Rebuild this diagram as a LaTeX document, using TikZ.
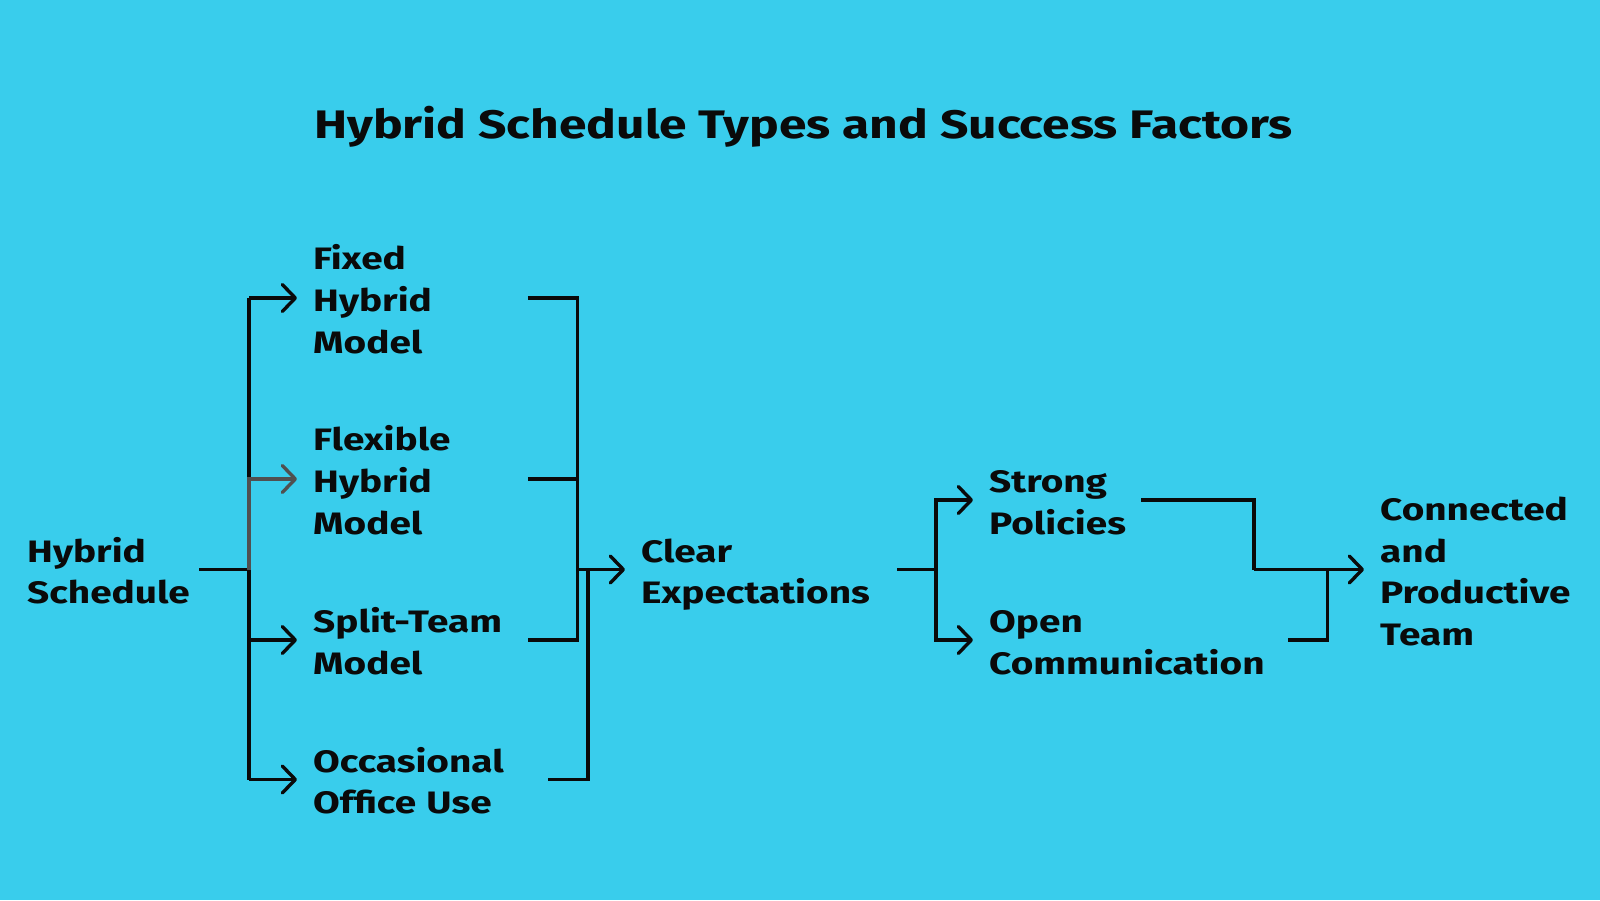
\documentclass[tikz,border=0pt]{standalone}
\usepackage{fontspec}
\usetikzlibrary{arrows.meta}
\setmainfont{Fira Sans}[BoldFont={Fira Sans Bold},BoldFeatures={FakeStretch=1.25}]
\definecolor{bgblue}{HTML}{39CDEC}
\definecolor{inkblack}{HTML}{0A0A0A}
\definecolor{inkgrey}{HTML}{505050}
\tikzset{
  lbl/.style={anchor=west, inner sep=0pt, align=left, text=inkblack,
    font=\fontsize{31}{41.8}\selectfont\bfseries,
    execute at begin node={\rule{0pt}{36pt}},
    execute at end node={\rule[-9pt]{0pt}{9pt}}},
  ttl/.style={inner sep=0pt, text=inkblack, font=\fontsize{39.8}{46}\selectfont\bfseries},
  conn/.style={draw=inkblack, line width=3.4pt, line join=miter},
  arr/.style={conn, -{Straight Barb[length=13pt,width=27pt,line width=3.4pt,round]}},
  greyarr/.style={arr, draw=inkgrey},
}
\begin{document}
\begin{tikzpicture}[x=1pt,y=-1pt]
\useasboundingbox (0,0) rectangle (1600,900);
\fill[bgblue] (0,0) rectangle (1600,900);

\node[ttl] (title) at (803.5,126.5) {Hybrid Schedule Types and Success Factors};

\node[lbl, text width=172pt] (hs) at (27,569.5) {Hybrid\\Schedule};
\node[lbl, text width=214.5pt] (fixed) at (313,298) {Fixed\\Hybrid\\Model};
\node[lbl, text width=214.5pt] (flex) at (313,479) {Flexible\\Hybrid\\Model};
\node[lbl, text width=214.5pt] (split) at (313,640) {Split-Team\\Model};
\node[lbl, text width=235pt] (occ) at (313,779.5) {Occasional\\Office Use};
\node[lbl, text width=256pt] (clear) at (641,569.5) {Clear\\Expectations};
\node[lbl, text width=152pt] (strong) at (989,500) {Strong\\Policies};
\node[lbl, text width=299pt] (open) at (989,640) {Open\\Communication};
\node[lbl, text width=200pt] (team) at (1380,569.5) {Connected\\and\\Productive\\Team};

\coordinate (j1) at (249,569.5);
\coordinate (j2) at (577.5,569.5);
\coordinate (j3) at (588,569.5);
\coordinate (j4) at (936,569.5);
\coordinate (j5) at (1254,569.5);
\coordinate (j6) at (1327.5,569.5);

% left fan-out
\draw[conn] (hs.east) -- (j1);
\draw[conn] (j1) -- (j1 |- fixed.west);
\draw[conn] (j1) -- (j1 |- occ.west);
\draw[arr] (j1 |- fixed.west) -- ([xshift=-16pt]fixed.west);
\draw[arr] (j1 |- split.west) -- ([xshift=-16pt]split.west);
\draw[arr] (j1 |- occ.west) -- ([xshift=-16pt]occ.west);
\draw[greyarr] (j1) -- (j1 |- flex.west) -- ([xshift=-16pt]flex.west);

% merge into Clear Expectations
\draw[conn] (fixed.east) -- (j2 |- fixed.east) -- (j2 |- split.east) -- (split.east);
\draw[conn] (flex.east) -- (j2 |- flex.east);
\draw[conn] (occ.east) -- (j3 |- occ.east) -- (j3);
\draw[arr] (j2) -- ([xshift=-16pt]clear.west);

% fan-out to Strong / Open
\draw[conn] (clear.east) -- (j4);
\draw[arr] (j4) -- (j4 |- strong.west) -- ([xshift=-16pt]strong.west);
\draw[arr] (j4) -- (j4 |- open.west) -- ([xshift=-16pt]open.west);

% merge into the team
\draw[conn] (strong.east) -- (j5 |- strong.east) -- (j5);
\draw[conn] (open.east) -- (j6 |- open.east) -- (j6);
\draw[arr] (j5) -- ([xshift=-16pt]team.west);
\end{tikzpicture}
\end{document}
